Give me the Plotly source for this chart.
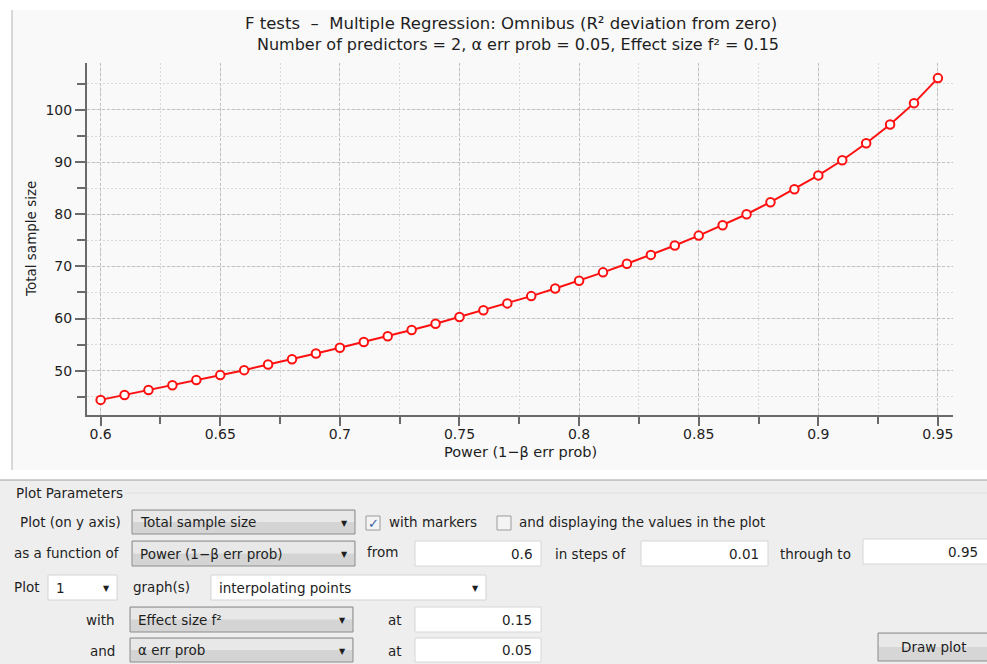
import plotly.graph_objects as go

# ---- data ----
power = [0.60, 0.61, 0.62, 0.63, 0.64, 0.65, 0.66, 0.67, 0.68, 0.69,
         0.70, 0.71, 0.72, 0.73, 0.74, 0.75, 0.76, 0.77, 0.78, 0.79,
         0.80, 0.81, 0.82, 0.83, 0.84, 0.85, 0.86, 0.87, 0.88, 0.89,
         0.90, 0.91, 0.92, 0.93, 0.94, 0.95]
total_sample_size = [44.4, 45.35, 46.3, 47.2, 48.2, 49.15, 50.1, 51.2, 52.2, 53.3,
                     54.4, 55.5, 56.6, 57.8, 59.0, 60.3, 61.6, 62.9, 64.3, 65.75,
                     67.25, 68.85, 70.5, 72.2, 74.0, 75.9, 77.9, 80.0, 82.3, 84.8,
                     87.45, 90.35, 93.6, 97.2, 101.3, 106.1]
x_tick_vals = [0.6, 0.65, 0.7, 0.75, 0.8, 0.85, 0.9, 0.95]
x_tick_text = ["0.6", "0.65", "0.7", "0.75", "0.8", "0.85", "0.9", "0.95"]
y_tick_vals = [50, 60, 70, 80, 90, 100]

title_line1 = "F tests\u00a0\u00a0\u2013\u00a0\u00a0Multiple Regression: Omnibus (R\u00b2 deviation from zero)"
title_line2 = "Number of predictors = 2, \u03b1 err prob = 0.05, Effect size f\u00b2 = 0.15"
x_title = "Power (1\u2212\u03b2 err prob)"
y_title = "Total sample size"

# ---- layout geometry (pixels) ----
W, H = 987, 664
L, R, T, B = 87, 953, 63, 415
FONT = "DejaVu Sans"
TXT = "#1e1e1e"
UI = 13.5


def px(x):
    return (x - L) / (R - L)


def py(y):
    return (B - y) / (B - T)


shapes = []
annos = []


def rect(x0, y0, x1, y1, fill, line=None, lw=1, layer="below"):
    shapes.append(dict(type="rect", xref="paper", yref="paper",
                       x0=px(x0), x1=px(x1), y0=py(y1), y1=py(y0),
                       fillcolor=fill, layer=layer,
                       line=dict(color=line if line else "rgba(0,0,0,0)", width=lw if line else 0)))


def hline(x0, x1, y, color, w=1, layer="below"):
    shapes.append(dict(type="line", xref="paper", yref="paper",
                       x0=px(x0), x1=px(x1), y0=py(y), y1=py(y),
                       line=dict(color=color, width=w), layer=layer))


def vline(x, y0, y1, color, w=1, layer="below"):
    shapes.append(dict(type="line", xref="paper", yref="paper",
                       x0=px(x), x1=px(x), y0=py(y0), y1=py(y1),
                       line=dict(color=color, width=w), layer=layer))


def text(x, y, s, size=UI, anchor="left", color=TXT, angle=0):
    annos.append(dict(x=px(x), y=py(y), xref="paper", yref="paper", text=s,
                      showarrow=False, xanchor=anchor, yanchor="middle",
                      textangle=angle,
                      font=dict(family=FONT, size=size, color=color)))


def dropdown(x0, y0, x1, y1, label, grey=True):
    if grey:
        rect(x0, y0, x1, y1, "#d4d4d4", "#8c8c8c", 1)
        rect(x0 + 1, y0 + 1, x1 - 1, (y0 + y1) / 2, "#e8e8e8")
    else:
        rect(x0, y0, x1, y1, "#ffffff", "#d4d4d4", 1)
    text(x0 + 6, (y0 + y1) / 2, label)
    text(x1 - 11, (y0 + y1) / 2 + 1, "\u25bc", 8, anchor="center")


def textbox(x0, y0, x1, y1, value):
    rect(x0, y0, x1, y1, "#ffffff", "#d6d6d6", 1)
    text(x1 - 7, (y0 + y1) / 2, value, anchor="right")


def checkbox(x0, y0, checked):
    rect(x0, y0, x0 + 14, y0 + 14, "#f4f4f4", "#9a9a9a", 1)
    if checked:
        text(x0 + 7, y0 + 7, "\u2713", 13, anchor="center", color="#3a5fa8")


# ---- backgrounds ----
rect(12, 10, 987, 470, "#f9f9f9")
vline(12, 10, 470, "#b4b4b4", 1)
rect(0, 480, 987, 664, "#eeeeee")
hline(0, 987, 480, "#9c9ca6", 1)
hline(125, 987, 493, "#dedede", 1)

# ---- titles ----
text(511, 24, title_line1, 16.5, anchor="center")
text(518, 44, title_line2, 16, anchor="center")
text((L + R) / 2, 452, x_title, 14.5, anchor="center")
text(31, (T + B) / 2, y_title, 13.5, anchor="center", angle=-90)

# ---- plot parameters panel ----
text(14, 493, "Plot Parameters")

text(18, 522, "Plot (on y axis)")
dropdown(132, 510, 355, 534, "Total sample size")
checkbox(366, 516, True)
text(387, 522, "with markers")
checkbox(497, 516, False)
text(517, 522, "and displaying the values in the plot")

text(12, 553, "as a function of")
dropdown(132, 541, 355, 566, "Power (1\u2212\u03b2 err prob)")
text(365, 552, "from")
textbox(415, 541, 541, 566, "0.6")
text(553, 554, "in steps of")
textbox(641, 541, 768, 566, "0.01")
text(778, 554, "through to")
textbox(863, 539, 995, 564, "0.95")
annos[-1]["x"] = px(980)

text(12, 587, "Plot")
dropdown(48, 575, 117, 600, "1", grey=False)
text(131, 587, "graph(s)")
dropdown(211, 575, 486, 600, "interpolating points", grey=False)

text(117, 620, "with", anchor="right")
dropdown(130, 607, 353, 632, "Effect size f\u00b2")
text(386, 620, "at")
textbox(415, 607, 541, 632, "0.15")

text(117, 651, "and", anchor="right")
dropdown(130, 638, 353, 662, "\u03b1 err prob")
text(386, 651, "at")
textbox(415, 638, 541, 662, "0.05")

rect(878, 633, 992, 661, "#d6d6d6", "#8c8c8c", 1)
rect(879, 634, 991, 647, "#e8e8e8")
text(933, 647, "Draw plot", anchor="center")

# ---- chart ----
fig = go.Figure()
fig.add_trace(go.Scatter(
    x=power, y=total_sample_size, mode="lines+markers",
    line=dict(color="#ff1010", width=2),
    marker=dict(symbol="circle", size=8.5, color="#ffffff",
                line=dict(color="#ff1010", width=2)),
    hoverinfo="x+y", showlegend=False))

axis_common = dict(
    showline=True, linecolor="#6a6a6a", linewidth=2,
    ticks="outside", tickcolor="#6a6a6a", tickwidth=2,
    showgrid=True, gridcolor="#c2c2c2", gridwidth=1.2, griddash="3px,2px",
    zeroline=False, tickfont=dict(family=FONT, size=14, color=TXT),
    fixedrange=True,
)

fig.update_xaxes(range=[0.5943, 0.9563], tickvals=x_tick_vals, ticktext=x_tick_text,
                 ticklen=9, ticklabelstandoff=-4,
                 minor=dict(tick0=0.6, dtick=0.025, ticks="outside", ticklen=7,
                            tickwidth=2, tickcolor="#6a6a6a", showgrid=True,
                            gridcolor="#d9d9d9", griddash="2px,2px", gridwidth=1),
                 **axis_common)
fig.update_yaxes(range=[41.5, 109.0], tickvals=y_tick_vals, ticklen=10,
                 minor=dict(tick0=0, dtick=5, ticks="outside", ticklen=8,
                            tickwidth=2, tickcolor="#6a6a6a", showgrid=True,
                            gridcolor="#d9d9d9", griddash="2px,2px", gridwidth=1),
                 **axis_common)

fig.update_layout(
    width=W, height=H,
    margin=dict(l=L, r=W - R, t=T, b=H - B, pad=0),
    paper_bgcolor="#ffffff", plot_bgcolor="#efefef",
    shapes=shapes, annotations=annos,
    font=dict(family=FONT, color=TXT),
)

fig.write_html("out.html", config={"displayModeBar": False},
               post_script="document.body.style.margin='0';document.body.style.overflow='hidden';")
